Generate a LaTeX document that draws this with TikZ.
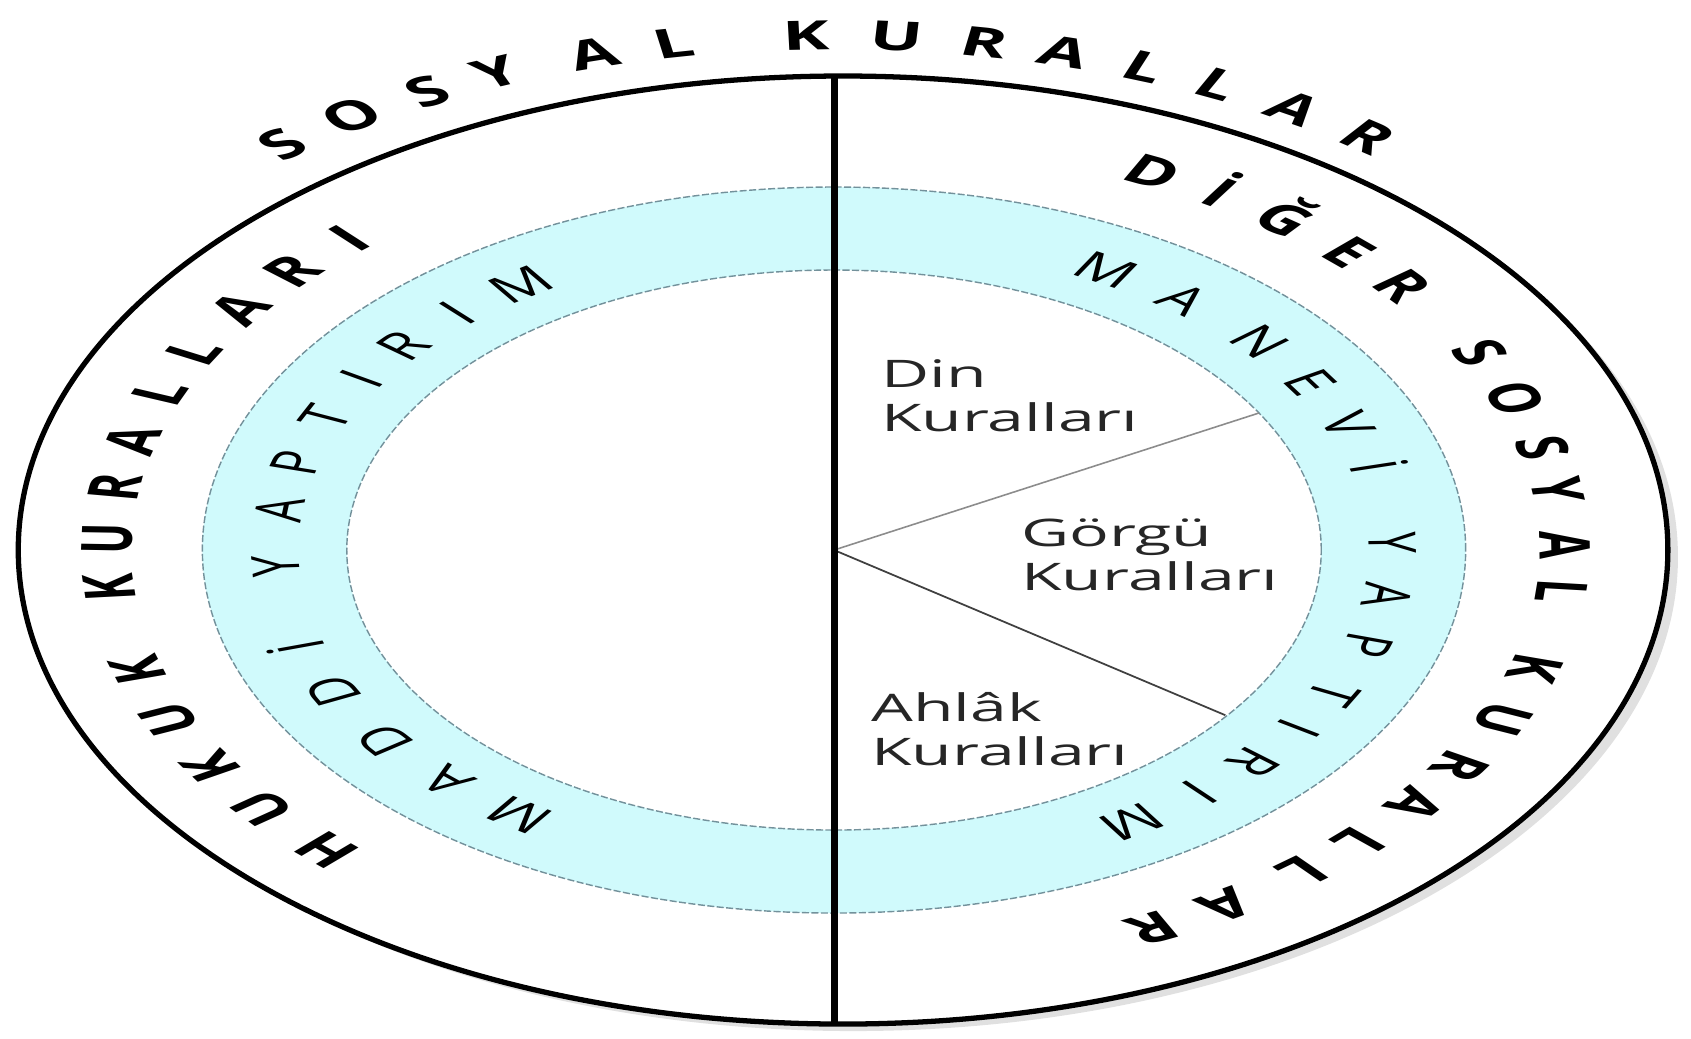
\documentclass[tikz,border=0pt]{standalone}
\usepackage{fontspec}
\setmainfont{Open Sans}
\usepackage{tikz}

\definecolor{bandfill}{RGB}{208,250,252}
\definecolor{bandline}{RGB}{115,145,155}

\begin{document}
\begin{tikzpicture}[x=0.01cm, y=0.01cm, xscale=1.74,
  ringletter/.style={transform shape, inner sep=0pt, text height=8.2pt, text depth=0pt,
    font=\fontsize{11.5}{12}\selectfont\bfseries},
  bandletter/.style={transform shape, inner sep=0pt, text height=7.7pt, text depth=0pt,
    font=\fontsize{10.8}{12}\selectfont},
  rulelabel/.style={transform shape, anchor=north west, inner sep=0pt, align=left,
    text=black!85, font=\fontsize{10.8}{12.5}\selectfont},
  bandedge/.style={bandline, line width=0.4pt, dash pattern=on 2pt off 0.7pt}]
  \useasboundingbox (-479.3,-488) rectangle (492.5,550);
  % outer ring and its shadow
  \fill[black!12] (11,-7) circle[radius=474];
  \draw[line width=1.5pt, fill=white] (5.2,0) circle[radius=474];
  % sanction band
  \fill[bandfill, even odd rule] (0,0) circle[radius=363] (0,0) circle[radius=280];
  \draw[bandedge] (0,0) circle[radius=363];
  \draw[bandedge] (0,0) circle[radius=280];
  % dividing lines
  \coordinate (ctr) at (0,0);
  \coordinate (top) at (0,474);
  \coordinate (bot) at (0,-474);
  \coordinate (dinend) at (29.3:280);
  \coordinate (ahlakend) at (-36.3:279);
  \draw[black!45, line width=0.45pt] (ctr) -- (dinend);
  \draw[black!75, line width=0.5pt] (ctr) -- (ahlakend);
  \draw[line width=2pt] (top) -- (bot);

  % texts round the rings
  \foreach \ch/\a [count=\i] in {S/128.0,O/122.6,S/117.0,Y/112.1,A/105.6,L/100.3,
      K/91.8,U/86.0,R/80.3,A/75.1,L/69.7,L/64.6,A/59.1,R/53.4}
    \node[ringletter, rotate=\a-90] (sosyal-\i) at (\a:515) {\ch};
  \foreach \ch/\a [count=\i] in {H/225.8,U/218.2,K/211.1,U/203.9,K/196.7,
      K/185.2,U/178.4,R/171.4,A/164.7,L/157.9,L/151.7,A/144.8,R/138.2,I/131.8}
    \node[ringletter, rotate=\a-90] (hukuk-\i) at (\a:418) {\ch};
  \foreach \ch/\a [count=\i] in {D/64.1,İ/58.2,Ğ/52.0,E/45.2,R/38.9,
      S/28.0,O/21.2,S/14.1,Y/8.2,A/0.7,L/-5.6,
      K/-16.4,U/-23.8,R/-31.0,A/-37.3,L/-44.1,L/-50.1,A/-57.6,R/-64.2}
    \node[ringletter, rotate=\a-90] (diger-\i) at (\a:420) {\ch};
  \foreach \ch/\a [count=\i] in {M/235.7,A/226.1,D/216.4,D/206.1,İ/197.4,
      Y/182.9,A/172.8,P/164.3,T/155.6,I/147.8,R/140.5,I/132.4,M/124.1}
    \node[bandletter, rotate=\a-90] (maddi-\i) at (\a:321) {\ch};
  \foreach \ch/\a [count=\i] in {M/60.8,A/51.2,N/40.4,E/31.5,V/23.0,İ/14.9,
      Y/1.3,A/-8.1,P/-17.2,T/-26.7,I/-33.7,R/-41.3,I/-49.0,M/-57.8}
    \node[bandletter, rotate=\a-90] (manevi-\i) at (\a:321) {\ch};

  % rule labels
  \node[rulelabel] (din) at (26.4,191.5) {Din\\Kuralları};
  \node[rulelabel] (gorgu) at (106.9,31.5) {Görgü\\Kuralları};
  \node[rulelabel] (ahlak) at (20.7,-142) {Ahlâk\\Kuralları};
\end{tikzpicture}
\end{document}
